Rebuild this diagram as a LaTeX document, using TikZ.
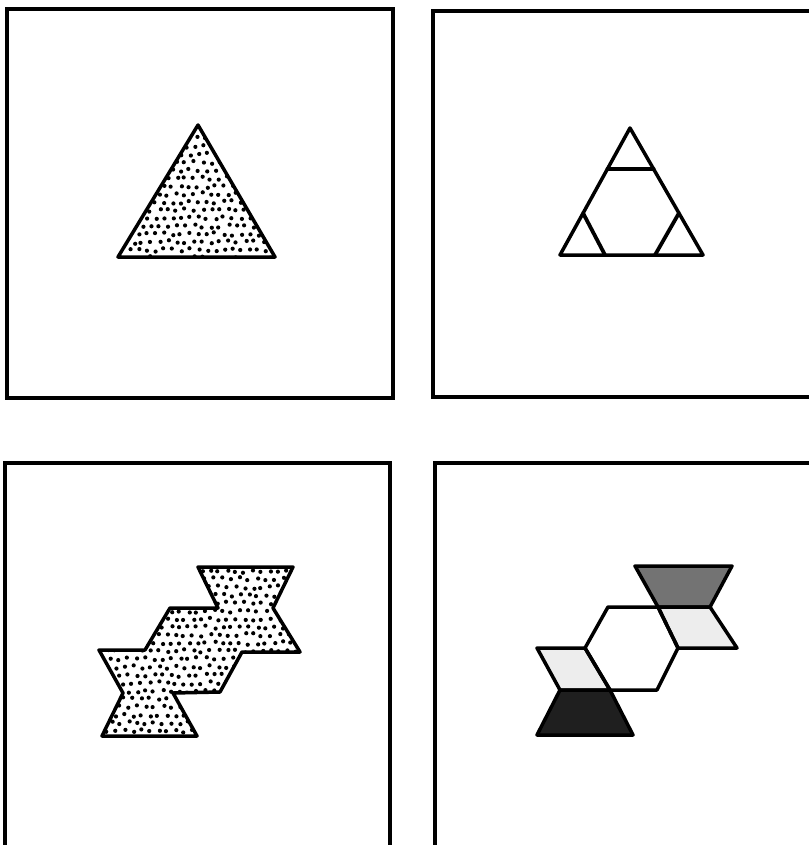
\documentclass[tikz,border=0pt]{standalone}
\begin{document}
\begin{tikzpicture}[x=1pt,y=-1pt,
  frame/.style={line width=4pt},
  outl/.style={line width=3.5pt,line join=round},
  cutline/.style={line width=3.8pt,line cap=round}]
\useasboundingbox (0,0) rectangle (808,845);
\fill[white] (0,0) rectangle (808,845);
\newcommand\mystipple[4]{%
  \foreach \r in {0,...,#4}{%
    \foreach \c in {0,...,#3}{%
      \pgfmathsetmacro\px{#1+\c*8.6+mod(\r,2)*4.3+rand*1.8}%
      \pgfmathsetmacro\py{#2+\r*8.0+rand*1.8}%
      \fill (\px,\py) circle (2.1);
    }}}
\pgfmathsetseed{7}
% frames
\draw[frame] (7,9) rectangle (393,398);
\draw[frame] (433,11) rectangle (820,397);
\draw[frame] (5,463) rectangle (390,860);
\draw[frame] (435,463) rectangle (820,860);

% panel 1: stippled triangle
\coordinate (t1a) at (198,125);
\coordinate (t1b) at (118,257);
\coordinate (t1c) at (275,257);
\begin{scope}
  \clip (t1a) -- (t1b) -- (t1c) -- cycle;
  \mystipple{112}{122}{20}{17}
\end{scope}
\draw[outl] (t1a) -- (t1b) -- (t1c) -- cycle;

% panel 2: divided triangle
\coordinate (t2a) at (630,128);
\coordinate (t2b) at (560,255);
\coordinate (t2c) at (703,255);
\coordinate (u1) at (607.4,169);
\coordinate (u2) at (653.6,169);
\coordinate (l1) at (583,213);
\coordinate (l2) at (605,255);
\coordinate (r1) at (679,213);
\coordinate (r2) at (655,255);
\draw[outl] (t2a) -- (t2b) -- (t2c) -- cycle;
\draw[cutline] (u1) -- (u2);
\draw[cutline] (l1) -- (l2);
\draw[cutline] (r1) -- (r2);

% panel 3: stippled silhouette
\def\silhouette{(198,567) -- (293,567) -- (273,608) -- (300,652) -- (242,652) -- (220,692) -- (173,693) -- (197,736) -- (102,736) -- (123,693) -- (99,650) -- (145,650) -- (170,608) -- (218,608) -- cycle}
\begin{scope}
  \clip \silhouette;
  \mystipple{94}{563}{25}{23}
\end{scope}
\draw[outl] \silhouette;

% panel 4: pieces
\fill[black!55] (635,566) -- (732,566) -- (710,607) -- (658,607) -- cycle;
\fill[black!7] (658,607) -- (710,607) -- (737,648) -- (678,648) -- cycle;
\fill[black!7] (537,648) -- (585,648) -- (610,690) -- (560,690) -- cycle;
\fill[black!88] (560,690) -- (610,690) -- (633,735) -- (537,735) -- cycle;
\draw[outl] (635,566) -- (732,566) -- (710,607) -- (658,607) -- cycle;
\draw[outl] (658,607) -- (710,607) -- (737,648) -- (678,648) -- cycle;
\draw[outl] (608,607) -- (658,607) -- (678,648) -- (657,690) -- (610,690) -- (585,648) -- cycle;
\draw[outl] (537,648) -- (585,648) -- (610,690) -- (560,690) -- cycle;
\draw[outl] (560,690) -- (610,690) -- (633,735) -- (537,735) -- cycle;
\end{tikzpicture}
\end{document}
